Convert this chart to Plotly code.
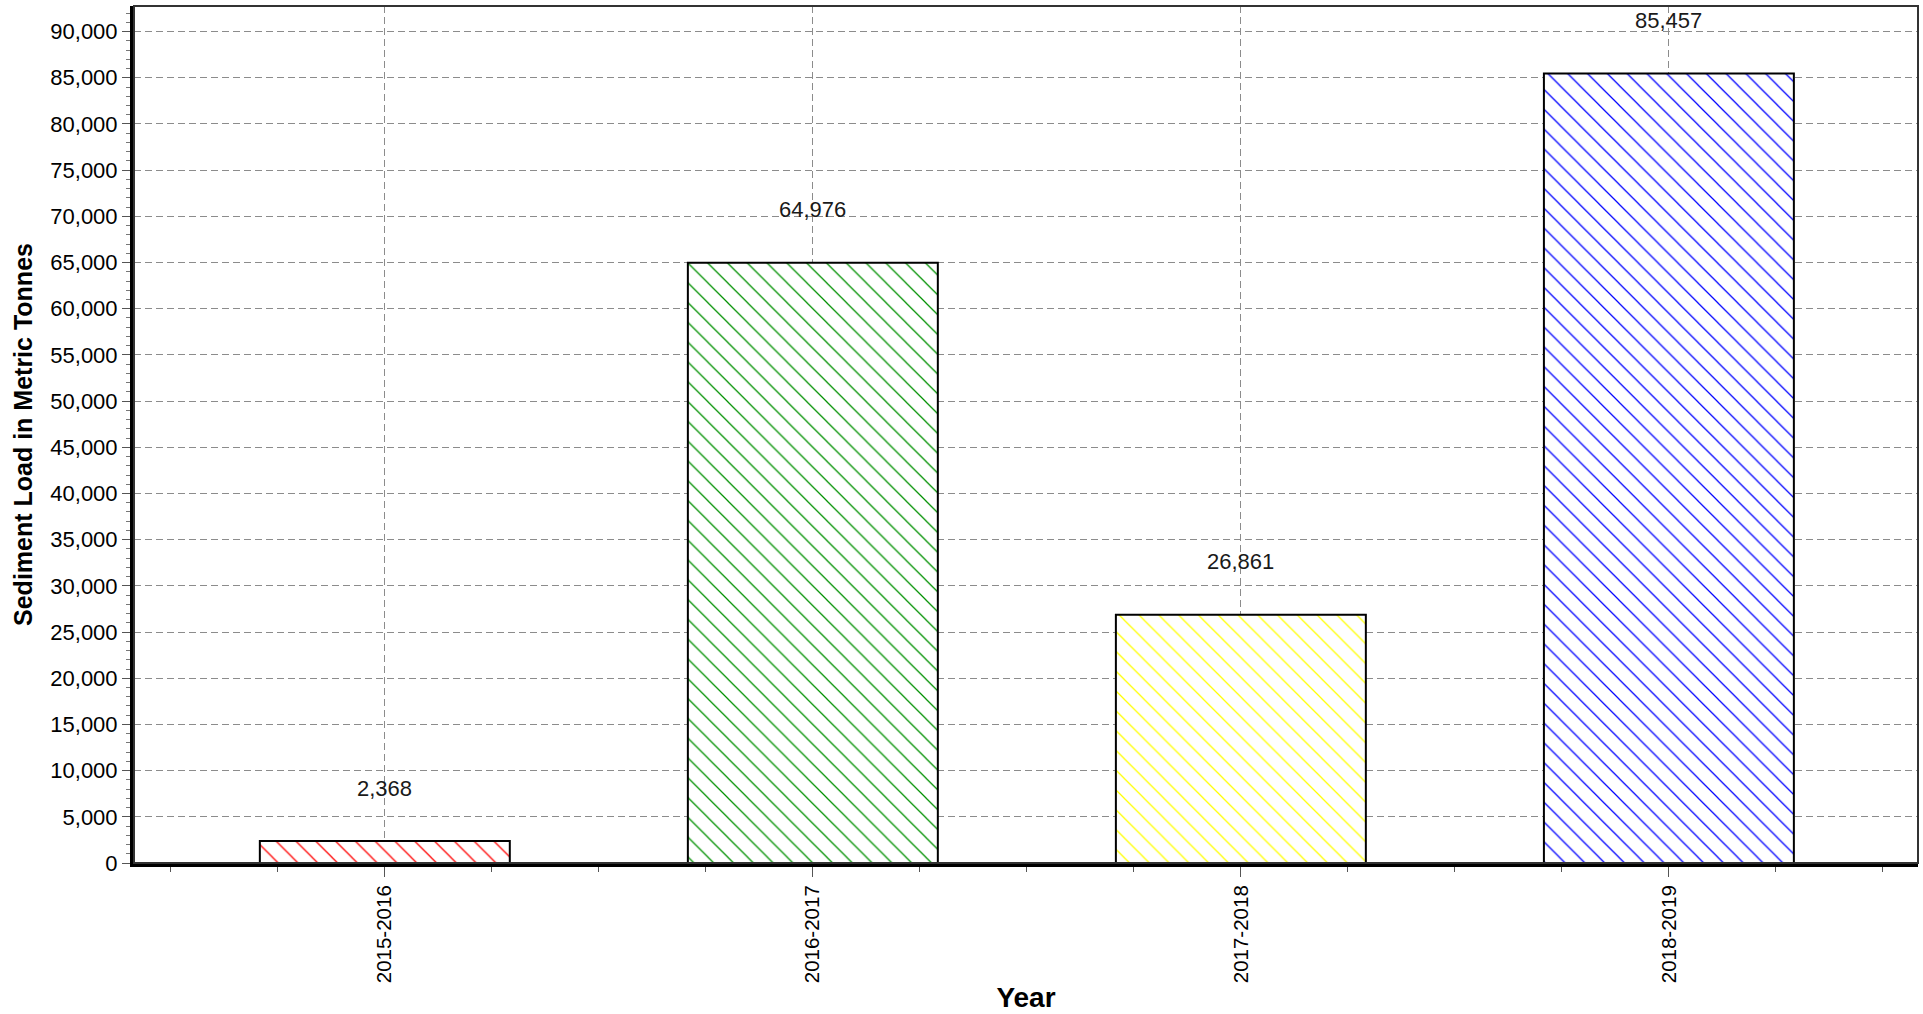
import plotly.graph_objects as go

years = ["2015-2016", "2016-2017", "2017-2018", "2018-2019"]
loads = [2368, 64976, 26861, 85457]
hatch_colors = ["#ff0000", "#009000", "#ffff00", "#0000ff"]
y_ticks = list(range(0, 90001, 5000))

xpos = list(range(len(years)))

fig = go.Figure()
fig.add_trace(go.Bar(
    x=xpos,
    y=loads,
    width=0.584,
    marker=dict(
        color="white",
        line=dict(color="black", width=2),
        pattern=dict(shape="\\", fgcolor=hatch_colors, bgcolor="white", fgopacity=1,
                     size=14, solidity=0.09, fillmode="overlay"),
    ),
    hovertemplate="%{text}<br>%{y:,}<extra></extra>",
    text=years,
    textposition="none",
))

# value labels above each bar
for xv, yv in zip(xpos, loads):
    fig.add_annotation(x=xv, y=yv, text=f"{yv:,}", showarrow=False,
                       yanchor="middle", yshift=53,
                       font=dict(family="Arial, Liberation Sans", size=22, color="#1a1a1a"))

grid = dict(showgrid=True, gridcolor="#8c8c8c", gridwidth=1, griddash="7px,4px")

fig.update_xaxes(
    range=[-0.586, 3.582],
    tickmode="array", tickvals=xpos, ticktext=years, tickangle=-90,
    ticks="outside", ticklen=10, tickcolor="#555", tickwidth=1,
    tickfont=dict(family="Arial, Liberation Sans", size=20.5, color="black"),
    showline=True, linecolor="black", linewidth=4,
    zeroline=False,
    minor=dict(dtick=0.25, tick0=0, ticks="outside", ticklen=5, tickcolor="#555", showgrid=False),
    title=dict(text="<b>Year</b>", standoff=6,
               font=dict(family="Arial, Liberation Sans", size=28, color="black")),
    **grid,
)
fig.update_yaxes(
    range=[0, 92770],
    tickmode="array", tickvals=y_ticks, tickformat=",d",
    ticks="outside", ticklen=8, tickcolor="#555", tickwidth=1,
    tickfont=dict(family="Arial, Liberation Sans", size=22, color="black"),
    showline=True, linecolor="black", linewidth=4,
    zeroline=False,
    minor=dict(dtick=1000, tick0=0, ticks="outside", ticklen=4, tickcolor="#777", showgrid=False),
    title=dict(text="<b>Sediment Load in Metric Tonnes</b>", standoff=12,
               font=dict(family="Arial, Liberation Sans", size=25, color="black")),
    **grid,
)

# thin frame on the top and right of the plot area
fig.add_shape(type="rect", xref="paper", yref="paper", x0=0, y0=0, x1=1, y1=1,
              line=dict(color="#333", width=2), layer="above")

fig.update_layout(
    width=1923, height=1014,
    margin=dict(l=134, r=5, t=6, b=147),
    plot_bgcolor="white", paper_bgcolor="white",
    showlegend=False,
    bargap=0.4,
)

fig.write_html("out.html", config={"displayModeBar": False},
               post_script="document.body.style.margin='0';document.body.style.overflow='hidden';")
